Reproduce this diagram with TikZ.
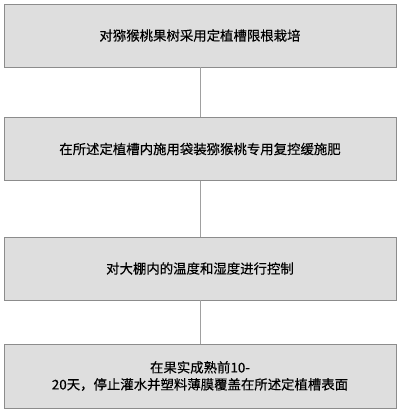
\documentclass[tikz,border=0pt]{standalone}
\usepackage{fontspec}
\setmainfont[FakeBold = 0.3]{Noto Sans CJK SC}
\usepackage{xcolor}
\usepackage{tikz}
\definecolor{boxfill}{HTML}{DEDEDE}
\definecolor{boxline}{HTML}{8C8C8C}
\definecolor{linkline}{HTML}{A0A0A0}
\begin{document}
\begin{tikzpicture}[x = 1bp, y = -1bp,
		stepbox/.style = {draw = boxline, line width = 0.8bp, fill = boxfill, minimum width = 392bp, minimum height = 63bp, inner sep = 0pt, align = center, font = \fontsize{13.4bp}{17bp}\selectfont, text = black},
		link/.style = {draw = linkline, line width = 0.8bp}]
	\useasboundingbox (0,0) rectangle (400,412);

	\node [stepbox] (plant) at (200,35.5) {对猕猴桃果树采用定植槽限根栽培};
	\node [stepbox] (fert) at (200,149) {在所述定植槽内施用袋装猕猴桃专用复控缓施肥};
	\node [stepbox] (climate) at (200,268.5) {对大棚内的温度和湿度进行控制};
	\node [stepbox, minimum height = 64bp] (cover) at (200,376) {在果实成熟前10-\\20天，停止灌水并塑料薄膜覆盖在所述定植槽表面};

	\foreach \a/\b in {plant/fert, fert/climate, climate/cover}
	{
		\draw [link] (\a) -- (\b);
	}
\end{tikzpicture}
\end{document}
